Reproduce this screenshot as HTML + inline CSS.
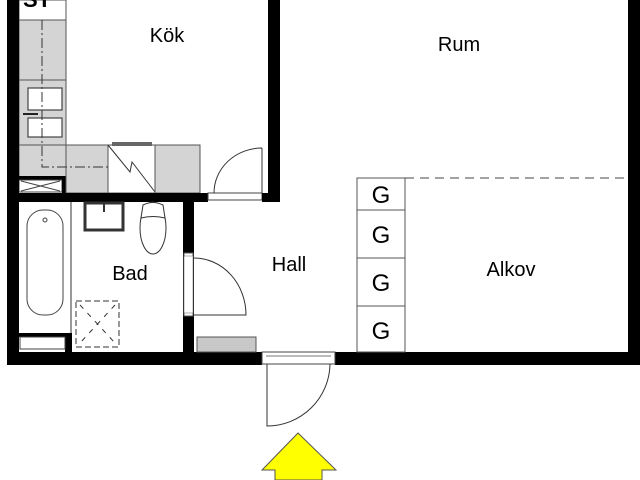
<!DOCTYPE html>
<html><head><meta charset="utf-8"><style>
html,body{margin:0;padding:0;background:#fff;width:640px;height:480px;overflow:hidden}
svg{display:block}
text{font-family:"Liberation Sans",sans-serif;fill:#000}
</style></head><body>
<svg width="640" height="480" viewBox="0 0 640 480" xmlns="http://www.w3.org/2000/svg">
<rect width="640" height="480" fill="#fff"/>
<!-- kitchen left counter -->
<rect x="19" y="0" width="47" height="20" fill="#fff" stroke="#555" stroke-width="1"/>
<text x="23" y="7" font-size="22" font-weight="bold">ST</text>
<rect x="19" y="20" width="47" height="60" fill="#d4d4d4" stroke="#555"/>
<rect x="19" y="80" width="47" height="65" fill="#d4d4d4" stroke="#555"/>
<rect x="28" y="88" width="34" height="22" fill="#fff" stroke="#444" stroke-width="1.2"/>
<rect x="28" y="118" width="34" height="19" fill="#fff" stroke="#444" stroke-width="1.2"/>
<line x1="23" y1="114" x2="38" y2="114" stroke="#222" stroke-width="2"/>
<rect x="19" y="145" width="47" height="33" fill="#d4d4d4" stroke="#555"/>
<rect x="19" y="176" width="47" height="4" fill="#000"/>
<rect x="19" y="180" width="43" height="12" fill="#fff" stroke="#444"/>
<path d="M21 181 L60 191 M21 191 L60 181" stroke="#444" stroke-width="1"/>
<rect x="62" y="176" width="4" height="17" fill="#000"/>
<!-- bottom counter -->
<rect x="66" y="145" width="42" height="48" fill="#d4d4d4" stroke="#555"/>
<rect x="108" y="145" width="47" height="48" fill="#fff" stroke="#555"/>
<rect x="112" y="142" width="40" height="4" fill="#666"/>
<path d="M108 145 L130 172 L132 162 L155 192" stroke="#333" fill="none" stroke-width="1"/>
<rect x="155" y="145" width="45" height="48" fill="#d4d4d4" stroke="#555"/>
<path d="M42 20 V167 H108" stroke="#333" fill="none" stroke-dasharray="10,3,2,3" stroke-width="1"/>
<!-- walls -->
<rect x="7" y="0" width="12" height="365" fill="#000"/>
<rect x="7" y="352" width="255" height="13" fill="#000"/>
<rect x="335" y="352" width="305" height="13" fill="#000"/>
<rect x="628" y="0" width="12" height="365" fill="#000"/>
<rect x="268" y="0" width="12" height="202" fill="#000"/>
<rect x="7" y="193" width="201" height="9" fill="#000"/>
<rect x="208" y="193" width="54" height="7" fill="#fff" stroke="#444"/>
<rect x="262" y="193" width="18" height="9" fill="#000"/>
<rect x="183" y="202" width="11" height="150" fill="#000"/>
<rect x="184" y="253" width="9" height="63" fill="#fff" stroke="#555"/>
<rect x="184" y="256" width="9" height="57" fill="#fff" stroke="#777" stroke-width="0.6"/>
<!-- kitchen door -->
<path d="M262 148 V193 M262 148 A48 45 0 0 0 214 193" stroke="#333" fill="none" stroke-width="1"/>
<!-- bathroom -->
<line x1="71" y1="202" x2="71" y2="333" stroke="#333"/>
<rect x="27" y="210" width="36" height="105" rx="16" fill="#fff" stroke="#444"/>
<circle cx="45" cy="220" r="2" fill="none" stroke="#444"/>
<rect x="19" y="333" width="53" height="4" fill="#000"/>
<rect x="65" y="333" width="7" height="19" fill="#000"/>
<rect x="20" y="337" width="45" height="12" fill="#fff" stroke="#444"/>
<rect x="85" y="203" width="38" height="27" fill="#fff" stroke="#333" stroke-width="3"/>
<line x1="104" y1="203" x2="104" y2="212" stroke="#333" stroke-width="2"/>
<ellipse cx="153" cy="228" rx="13" ry="26" fill="#fff" stroke="#333"/>
<path d="M143 205 Q153 200 163 205 L165 218 Q153 215 141 218 Z" fill="#fff" stroke="#333"/>
<rect x="76" y="301" width="43" height="46" fill="none" stroke="#333" stroke-dasharray="6,3"/>
<path d="M80 305 L115 343 M115 305 L80 343" stroke="#333" stroke-dasharray="5,6" fill="none"/>
<!-- hall door -->
<path d="M194 315 H246 A52 57 0 0 0 194 258" stroke="#333" fill="none"/>
<rect x="197" y="337" width="59" height="15" fill="#c8c8c8" stroke="#555"/>
<!-- entry -->
<rect x="262" y="352" width="73" height="12" fill="#fff" stroke="#444"/>
<line x1="266" y1="356" x2="331" y2="356" stroke="#777"/>
<path d="M267 364 V426 A63 63 0 0 0 330 364" stroke="#333" fill="none"/>
<polygon points="298,433 336,470 322,470 322,480 275,480 275,470 262,470" fill="#ffff00" stroke="#555" stroke-width="1"/>
<!-- closets -->
<rect x="357" y="178" width="48" height="174" fill="#fff" stroke="#555"/>
<line x1="357" y1="210" x2="405" y2="210" stroke="#555"/>
<line x1="357" y1="258" x2="405" y2="258" stroke="#555"/>
<line x1="357" y1="306" x2="405" y2="306" stroke="#555"/>
<line x1="405" y1="178" x2="628" y2="178" stroke="#444" stroke-dasharray="9,6"/>
<g font-size="24" text-anchor="middle">
<text x="381" y="203">G</text><text x="381" y="243">G</text><text x="381" y="291">G</text><text x="381" y="339">G</text>
</g>
<g font-size="20" text-anchor="middle">
<text x="167" y="42">Kök</text>
<text x="459" y="51">Rum</text>
<text x="289" y="271">Hall</text>
<text x="130" y="280">Bad</text>
<text x="511" y="276">Alkov</text>
</g>
</svg>
</body></html>
